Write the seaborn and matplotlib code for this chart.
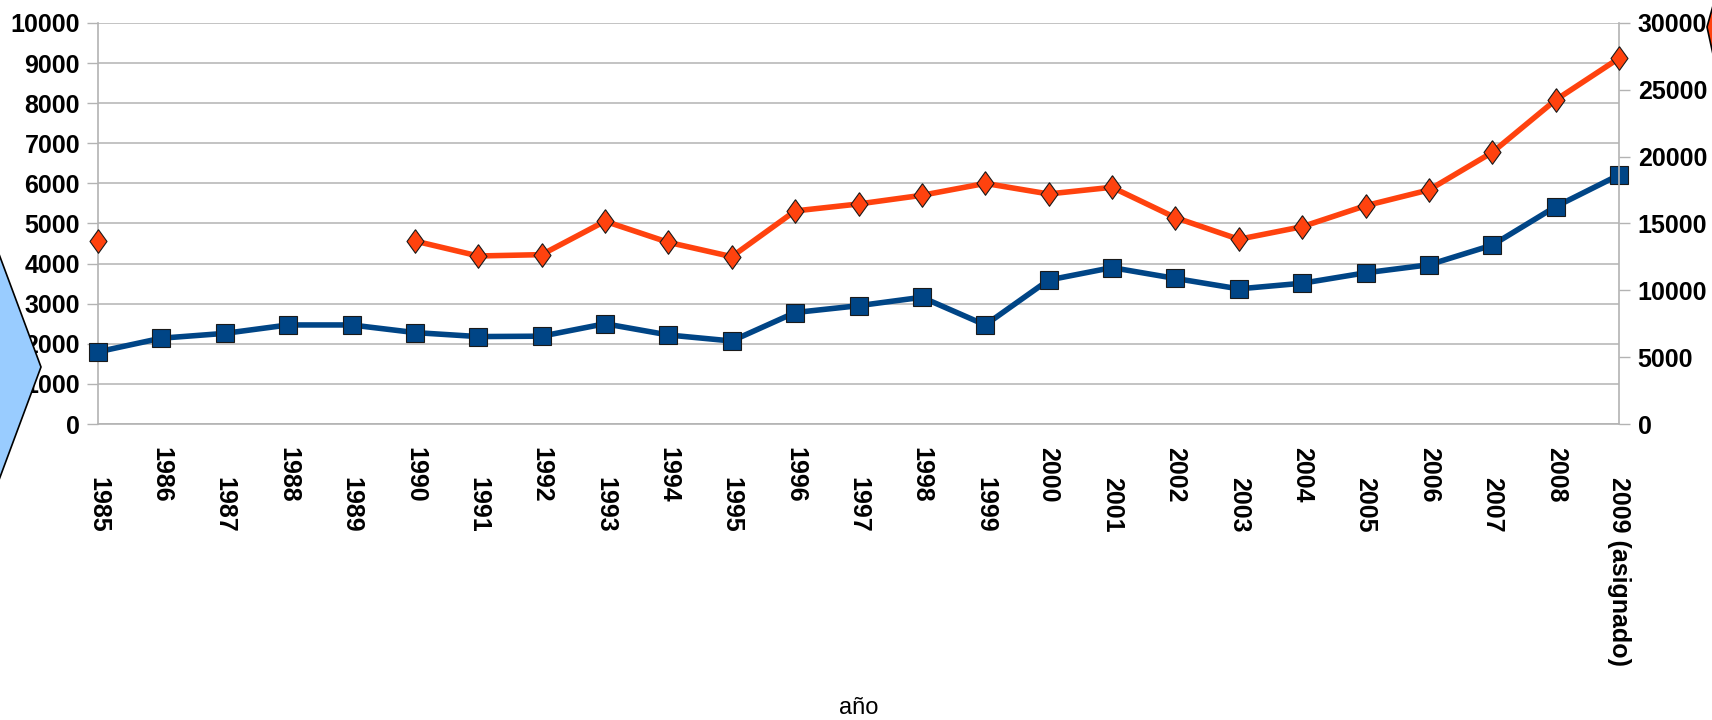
import numpy as np
import pandas as pd
import matplotlib
matplotlib.use("Agg")
import matplotlib.pyplot as plt
import seaborn as sns
from matplotlib.patches import Polygon
from matplotlib.ticker import FixedLocator, FixedFormatter

# ---- data ----
years = list(range(1985, 2010))
year_labels = [str(y) for y in years[:-1]] + ["2009 (asignado)"]
serie_azul = [1800, 2140, 2260, 2470, 2470, 2280, 2180, 2190, 2500, 2220,
              2070, 2780, 2950, 3160, 2470, 3590, 3900, 3630, 3370, 3510,
              3770, 3970, 4460, 5420, 6210]
serie_naranja = [13710, np.nan, np.nan, np.nan, np.nan, 13690, 12570, 12670,
                 15170, 13590, 12520, 15940, 16460, 17110, 18000, 17210,
                 17710, 15440, 13820, 14760, 16330, 17510, 20320, 24240, 27360]
left_ticks = list(range(0, 10001, 1000))
right_ticks = list(range(0, 30001, 5000))

BLUE = "#004586"
ORANGE = "#FF420E"
GRID = "#b3b3b3"
DIAMOND = [(0, 1), (0.72, 0), (0, -1), (-0.72, 0), (0, 1)]

sns.set_style("white")
plt.rcParams["font.family"] = ["Liberation Sans", "DejaVu Sans"]

fig = plt.figure(figsize=(17.12, 7.2), dpi=100)
W, H = 1712, 720
ax = fig.add_axes([98 / W, 1 - 424 / H, (1619 - 98) / W, (424 - 23) / H])
ax2 = ax.twinx()

df_a = pd.DataFrame({"anio": years, "valor": serie_azul})
df_o = pd.DataFrame({"anio": years, "valor": serie_naranja})
df_o["seg"] = df_o["valor"].isna().cumsum()
df_o = df_o.dropna()

sns.lineplot(data=df_a, x="anio", y="valor", ax=ax, color=BLUE, linewidth=4.0,
             marker="s", markersize=13.5, markeredgecolor="#1a1a1a",
             markeredgewidth=0.8, clip_on=False, legend=False, zorder=3)
sns.lineplot(data=df_o, x="anio", y="valor", units="seg", estimator=None,
             ax=ax2, color=ORANGE, linewidth=4.0, marker=DIAMOND, markersize=17,
             markeredgecolor="#1a1a1a", markeredgewidth=0.8, clip_on=False,
             legend=False, zorder=3)

ax.set_xlim(years[0], years[-1])
ax.set_ylim(0, 10000)
ax2.set_ylim(0, 30000)

ax.yaxis.set_major_locator(FixedLocator(left_ticks))
ax2.yaxis.set_major_locator(FixedLocator(right_ticks))
ax.set_yticklabels([str(t) for t in left_ticks])
ax2.set_yticklabels([str(t) for t in right_ticks])

ax.xaxis.set_major_locator(FixedLocator(years[::2]))
ax.xaxis.set_major_formatter(FixedFormatter(year_labels[::2]))
ax.xaxis.set_minor_locator(FixedLocator(years[1::2]))
ax.xaxis.set_minor_formatter(FixedFormatter(year_labels[1::2]))

ax.grid(axis="y", color=GRID, linewidth=1.1)
ax.grid(axis="x", visible=False)
ax.set_axisbelow(True)

tick_len = 11 / 1.389
ax.tick_params(axis="x", which="both", direction="out", length=tick_len,
               width=1, color=GRID, labelsize=18, labelrotation=-90)
ax.tick_params(axis="x", which="major", pad=30)
ax.tick_params(axis="x", which="minor", pad=8.5)
ax.tick_params(axis="y", direction="out", length=tick_len, width=1,
               color=GRID, labelsize=18, pad=5, left=True)
ax2.tick_params(axis="y", direction="out", length=tick_len, width=1,
                color=GRID, labelsize=18, pad=5.5, right=True)
for lab in ax.get_xticklabels(which="both") + ax.get_yticklabels() + ax2.get_yticklabels():
    lab.set_fontweight("bold")
    lab.set_color("black")

for sp in ["top", "right"]:
    ax.spines[sp].set_visible(False)
for sp in ["left", "bottom"]:
    ax.spines[sp].set_color(GRID)
    ax.spines[sp].set_linewidth(1.2)
for sp in ["top", "left", "bottom"]:
    ax2.spines[sp].set_visible(False)
ax2.spines["right"].set_color(GRID)
ax2.spines["right"].set_linewidth(1.2)

ax.set_ylabel("")
ax2.set_ylabel("")
ax.set_xlabel("año", fontsize=17, color="black")
ax.xaxis.set_label_coords(0.5, (424 - 697) / 401)

# decorative shapes partially outside the figure (pixel coords, top-left origin)
def px(points):
    return [(x / 100.0, (H - y) / 100.0) for x, y in points]

hexa = Polygon(px([(-100, 203), (-20, 203), (41, 367), (-20, 531), (-100, 531)]),
               closed=True, facecolor="#99CCFF", edgecolor="black", linewidth=1.2,
               transform=fig.dpi_scale_trans)
fig.patches.append(hexa)
diam = Polygon(px([(1707, 27), (1723, -30), (1739, 27), (1723, 100)]),
               closed=True, facecolor=ORANGE, edgecolor="black", linewidth=1.2,
               transform=fig.dpi_scale_trans)
fig.patches.append(diam)

fig.savefig("out.png", dpi=100)
